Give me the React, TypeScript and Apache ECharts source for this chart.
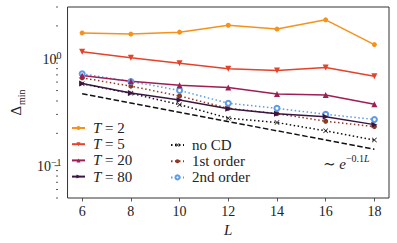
import React, { useEffect, useRef } from 'react';
import * as echarts from 'echarts';

const Ls = [6, 8, 10, 12, 14, 16, 18];
const T2 = [1.72, 1.68, 1.75, 2.03, 1.87, 2.28, 1.34];
const T5 = [1.15, 1.01, 0.9, 0.8, 0.77, 0.82, 0.68];
const T20 = [0.69, 0.61, 0.56, 0.535, 0.465, 0.455, 0.373];
const T80 = [0.583, 0.474, 0.408, 0.339, 0.305, 0.286, 0.241];
const noCD = [0.578, 0.471, 0.37, 0.277, 0.252, 0.211, 0.173];
const first = [0.657, 0.55, 0.445, 0.342, 0.305, 0.259, 0.231];
const second = [0.716, 0.608, 0.502, 0.381, 0.342, 0.301, 0.269];
const fitL = [6, 18];
const fitV = [0.467, 0.142];
const xTicks = [6, 8, 10, 12, 14, 16, 18];
const yMajor = [0.1, 1];
const yMinor = [0.05, 0.06, 0.07, 0.08, 0.09, 0.2, 0.3, 0.4, 0.5, 0.6, 0.7, 0.8, 0.9, 2, 3];

const FONT = "'Liberation Serif', 'DejaVu Serif', serif";
const GRID_LEFT = 58;
const XSYM = 'path://M0,1L1,0L5,4L9,0L10,1L6,5L10,9L9,10L5,6L1,10L0,9L4,5Z';

function pts(vals: number[]) {
  return Ls.map((l, i) => [l, vals[i]]);
}

function mk(name: string, vals: number[], color: string, symbol: string, size: number, lineType: any, rotate = 0, extra: any = {}) {
  return {
    name,
    type: 'line',
    data: pts(vals),
    symbol,
    symbolSize: size,
    symbolRotate: rotate,
    showSymbol: true,
    lineStyle: { color, width: 1.5, type: lineType },
    itemStyle: { color, borderWidth: 0, ...(extra.itemStyle || {}) },
    z: extra.z || 2,
  };
}

export default function App() {
  const ref = useRef<HTMLDivElement>(null);
  useEffect(() => {
    if (!ref.current) return;
    const chart = echarts.init(ref.current, null, { renderer: 'svg' });
    const dotted = [1.5, 2.5];
    const option: any = {
      animation: false,
      backgroundColor: '#fff',
      grid: { left: GRID_LEFT, right: 8, top: 7, bottom: 45, show: true, borderColor: '#333', borderWidth: 1, backgroundColor: 'transparent' },
      xAxis: {
        type: 'value', min: 5.4, max: 18.6,
        name: 'L', nameLocation: 'middle', nameGap: 20,
        nameTextStyle: { fontFamily: FONT, fontSize: 15, fontStyle: 'italic', color: '#222' },
        axisLine: { show: false },
        splitLine: { show: false },
        axisTick: { show: true, customValues: xTicks, length: 3.5, lineStyle: { color: '#333', width: 0.8 } },
        axisLabel: { customValues: xTicks, margin: 6, fontFamily: FONT, fontSize: 14, color: '#222' },
      },
      yAxis: {
        type: 'log', logBase: 10, min: 0.05, max: 3,
        name: '{d|Δ}{s|min}', nameLocation: 'middle', nameRotate: 90, nameGap: 36,
        nameTextStyle: {
          fontFamily: FONT, color: '#222',
          rich: {
            d: { fontFamily: FONT, fontSize: 15, color: '#222', lineHeight: 18, verticalAlign: 'top' },
            s: { fontFamily: FONT, fontSize: 10, color: '#222', lineHeight: 10, verticalAlign: 'bottom', padding: [0, 0, 0, 1] },
          },
        },
        axisLine: { show: false },
        splitLine: { show: false },
        minorSplitLine: { show: false },
        axisTick: { show: false },
        axisLabel: {
          margin: 6,
          formatter: (v: number) => {
            const e = Math.log10(v);
            if (Math.abs(e - Math.round(e)) > 1e-6) return '';
            const r = Math.round(e);
            return `{b|10}{p|${r < 0 ? '−' + -r : r}}`;
          },
          rich: {
            b: { fontFamily: FONT, fontSize: 14, color: '#222', lineHeight: 16, verticalAlign: 'bottom' },
            p: { fontFamily: FONT, fontSize: 10, color: '#222', lineHeight: 10, verticalAlign: 'top' },
          },
        },
      },
      legend: [
        {
          data: ['T = 2', 'T = 5', 'T = 20', 'T = 80'],
          orient: 'vertical', left: 66, top: 115.5, padding: 5, itemWidth: 13, itemHeight: 5, itemGap: 1.2,
          selectedMode: false,
          formatter: (n: string) => `{i|T}${n.slice(1)}`,
          textStyle: {
            fontFamily: FONT, fontSize: 15, color: '#222', padding: [0, 0, 0, 3],
            rich: { i: { fontFamily: FONT, fontSize: 15, fontStyle: 'italic', color: '#222' } },
          },
        },
        {
          data: ['no CD', '1st order', '2nd order'],
          orient: 'vertical', left: 165, top: 132.5, padding: 5, itemWidth: 13, itemHeight: 5, itemGap: 1.2,
          selectedMode: false,
          textStyle: { fontFamily: FONT, fontSize: 15, color: '#222', padding: [0, 0, 0, 3] },
        },
      ],
      series: [
        {
          name: 'fit', type: 'line', data: fitL.map((l, i) => [l, fitV[i]]), symbol: 'none',
          lineStyle: { color: '#111', width: 1.5, type: [5.5, 2.5] }, z: 1,
        },
        mk('no CD', noCD, '#111', XSYM, 5, dotted),
        mk('1st order', first, '#8E3A22', 'circle', 5, dotted),
        mk('2nd order', second, '#5A9CE6', 'emptyCircle', 5, dotted, 0, { itemStyle: { borderWidth: 1.2, borderColor: '#5A9CE6' } }),
        mk('T = 2', T2, '#F5921B', 'circle', 5, 'solid'),
        mk('T = 5', T5, '#E4432A', 'triangle', 6, 'solid', 180),
        mk('T = 20', T20, '#9E1F56', 'triangle', 6, 'solid'),
        mk('T = 80', T80, '#3A1540', 'triangle', 6, 'solid', -90),
      ],
    };
    chart.setOption(option);

    const graphics: any[] = [];
    const addTick = (v: number, len: number) => {
      const y = chart.convertToPixel({ yAxisIndex: 0 } as any, v) as unknown as number;
      if (typeof y !== 'number' || isNaN(y)) return;
      graphics.push({
        type: 'line', silent: true,
        shape: { x1: GRID_LEFT - len, y1: y, x2: GRID_LEFT, y2: y },
        style: { stroke: '#333', lineWidth: 0.8 },
      });
    };
    yMajor.forEach((v) => addTick(v, 3.5));
    yMinor.forEach((v) => addTick(v, 2));
    graphics.push({
      type: 'text', left: 323, top: 153, silent: true,
      style: {
        text: '{t|∼ }{e|e}{s|−0.1}{l|L}',
        rich: {
          t: { fontFamily: FONT, fontSize: 15, fill: '#222', lineHeight: 18, verticalAlign: 'bottom' },
          e: { fontFamily: FONT, fontSize: 15, fontStyle: 'italic', fill: '#222', lineHeight: 18, verticalAlign: 'bottom' },
          s: { fontFamily: FONT, fontSize: 10, fill: '#222', lineHeight: 11, verticalAlign: 'top' },
          l: { fontFamily: FONT, fontSize: 10, fontStyle: 'italic', fill: '#222', lineHeight: 11, verticalAlign: 'top' },
        },
      },
    });
    chart.setOption({ graphic: graphics });

    return () => chart.dispose();
  }, []);
  return <div ref={ref} style={{ width: 397, height: 243, position: 'absolute', left: 0, top: 0 }} />;
}
